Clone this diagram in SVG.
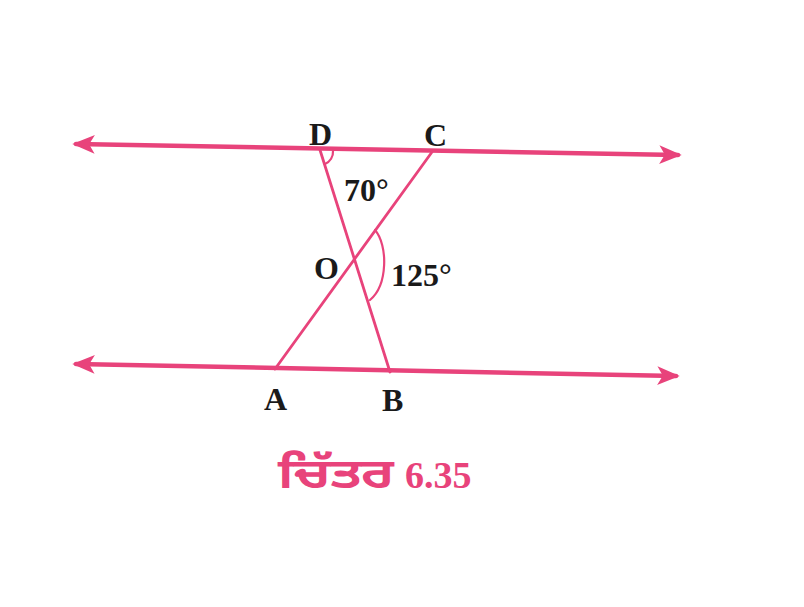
<svg xmlns="http://www.w3.org/2000/svg" width="804" height="607" viewBox="0 0 804 607">
<style>
.ln{stroke:#e8437b;fill:none;stroke-linecap:round}
.main{stroke-width:4.5}
.tr{stroke-width:2.8}
.arc{stroke-width:2.2}
.lb{font-family:"Liberation Serif",serif;font-weight:bold;font-size:32px;fill:#1a1a1a}
.cap{font-family:"Noto Sans Gurmukhi","Noto Sans","Liberation Sans",sans-serif;font-weight:bold;font-size:42px;fill:#e8437b}
.capn{font-family:"Liberation Serif",serif;font-weight:bold;font-size:38px;fill:#e8437b}
</style>
<defs>
<marker id="ah" viewBox="0 0 12 10" refX="10" refY="5" markerWidth="5" markerHeight="5" orient="auto-start-reverse">
<path d="M0,0 L12,5 L0,10 L3,5 Z" fill="#e8437b"/>
</marker>
</defs>
<rect width="804" height="607" fill="#ffffff"/>
<g id="connectors">
<line class="ln main" x1="76" y1="144" x2="678" y2="155" marker-start="url(#ah)" marker-end="url(#ah)"/>
<line class="ln main" x1="76" y1="364" x2="676" y2="376" marker-start="url(#ah)" marker-end="url(#ah)"/>
<line class="ln tr" x1="320" y1="150" x2="390" y2="372"/>
<line class="ln tr" x1="432" y1="152" x2="275" y2="369"/>
<path class="ln arc" d="M333,151 A13,13 0 0 1 325,164"/>
<path class="ln arc" d="M375,230 C388,245 388,285 370,300"/>
</g>
<g id="D"><text class="lb" x="309" y="145">D</text></g>
<g id="C"><text class="lb" x="424" y="146">C</text></g>
<g id="O"><text class="lb" x="314" y="279">O</text></g>
<g id="A"><text class="lb" x="264" y="410">A</text></g>
<g id="B"><text class="lb" x="382" y="411">B</text></g>
<g id="a70"><text class="lb" x="344" y="201" font-size="28">70°</text></g>
<g id="a125"><text class="lb" x="391" y="286">125°</text></g>
<g id="caption"><text class="cap" x="278" y="488" textLength="116" lengthAdjust="spacingAndGlyphs">ਚਿੱਤਰ</text><text class="capn" x="405" y="488">6.35</text></g>
</svg>
